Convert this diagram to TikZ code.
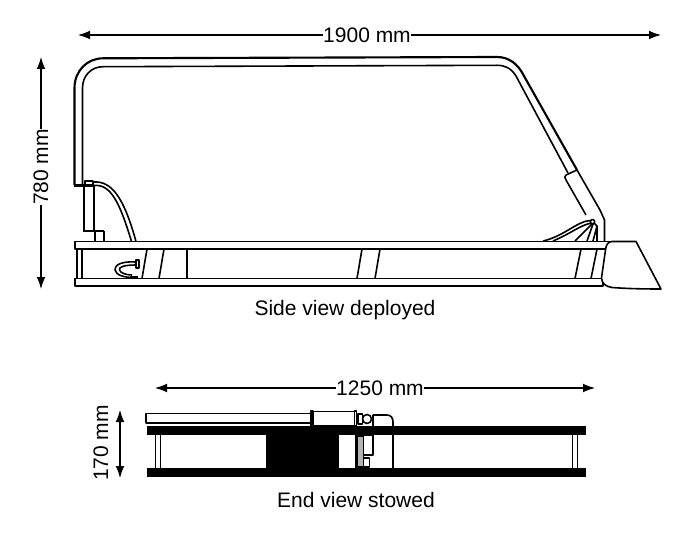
\documentclass[tikz,border=0pt]{standalone}
\usepackage{fontspec}
\setmainfont{Liberation Sans}
\usetikzlibrary{arrows.meta}
\tikzset{
  lbl/.style={inner sep=0pt,font=\fontsize{15.75}{18}\selectfont},
  dim/.style={line width=0.8pt,{Latex[length=9pt,width=6.5pt]}-{Latex[length=9pt,width=6.5pt]}},
  dimone/.style={line width=0.8pt,-{Latex[length=9pt,width=6.5pt]}},
  med/.style={line width=1.2pt},
  heavy/.style={line width=1.6pt},
  solid black/.style={fill=black,draw=none},
}
\begin{document}
\begin{tikzpicture}[x=0.75pt,y=-0.75pt,line join=round]
\useasboundingbox (0,0) rectangle (700,556);
% ---- dimensions
\node[lbl] (w) at (367,35) {1900 mm};
\coordinate (wl) at (78,35); \coordinate (wr) at (661,35);
\draw[dimone] (w.west) -- (wl); \draw[dimone] (w.east) -- (wr);
\node[lbl,rotate=90] (h) at (41,167) {780 mm};
\coordinate (ht) at (41,57); \coordinate (hb) at (41,289);
\draw[dimone] (h.east) -- (ht); \draw[dimone] (h.west) -- (hb);
\node[lbl] (e) at (380,388) {1250 mm};
\coordinate (el) at (155,388); \coordinate (er) at (595,388);
\draw[dimone] (e.west) -- (el); \draw[dimone] (e.east) -- (er);
\node[lbl,rotate=90] (s) at (101,443) {170 mm};
\coordinate (st) at (120,410); \coordinate (sb) at (120,478);
\draw[dim] (st) -- (sb);
\node[lbl] (c1) at (345,310) {Side view deployed};
\node[lbl] (c2) at (356,500) {End view stowed};
% ---- hoop
\draw[heavy] (74.5,185) -- (74.5,88) .. controls (74.5,71) and (87,58.3) .. (103,58.3)
  -- (497,57) .. controls (509,57) and (518,64) .. (524,76) -- (577,170);
\draw[med] (82.5,185) -- (82.5,88) .. controls (82.5,76) and (91,66.7) .. (103,66.7)
  -- (497,65.3) .. controls (505,65.3) and (511,68) .. (516,76) -- (568,173);
% ---- cylinder on strut
\draw[med] (566,175) -- (577,170) -- (600,210) -- (604.5,220) -- (604.5,241);
\draw[med] (566,175) .. controls (564.5,176) and (564.5,178) .. (566,180) -- (586,215);
\draw[med] (592,224) -- (575,241);
\draw[med] (593,224) -- (587,241);
\draw[med] (594,223) -- (597,226) -- (597,241);
\draw[med] (597,226) -- (593,241);
\draw[med] (592,220.5) .. controls (578,220) and (565,236) .. (543,241);
\draw[med] (592,223) .. controls (580,225) and (572,233) .. (553,241);
\draw[med,fill=white] (592.5,221.7) circle (2.2);
% ---- rails
\draw[med] (75,241.5) rectangle (610,249);
\draw[med] (75,278.5) rectangle (603,286);
\draw[med] (77,249) -- (77,278.5);
\draw[med] (81.7,249) -- (81.7,278.5);
\draw[med] (147,249) -- (142,278.5);
\draw[med] (164,249) -- (159,278.5);
\draw[med] (187,249) -- (187,278.5);
\draw[med] (362,249) -- (357,278.5);
\draw[med] (380,249) -- (375,278.5);
\draw[med] (581,249) -- (575,278.5);
\draw[med] (597,249) -- (591,278.5);
% ---- bucket
\draw[med,fill=white] (636,241.5) -- (661,289) .. controls (640,289) and (625,288.5) .. (612,287.5)
  .. controls (605,286.5) and (602,283) .. (601.5,278) -- (605.5,250)
  .. controls (606,245) and (608,241.5) .. (612,241.5) -- cycle;
% ---- left ram
\draw[line width=2pt] (74,185.3) -- (94,185.3);
\draw[med] (85,185) -- (85,181) -- (93,181) -- (93,185);
\draw[med] (84,185) -- (84,231);
\draw[med] (94,185) -- (94,231);
\draw[line width=2pt] (83,231) -- (104,231);
\draw[med] (95,231) -- (95,241.5);
\draw[med] (104,231) -- (104,241.5);
\draw[med] (94,182) .. controls (112,181) and (124,198) .. (136,241.5);
\draw[med] (94,185.5) .. controls (110,184) and (119,200) .. (131.5,241.5);
% ---- small hose
\draw[med] (136,262) .. controls (122,261) and (114,265) .. (115,270)
  .. controls (116,275) and (124,277.5) .. (133,277.5);
\draw[med] (136,265) .. controls (124,265) and (118.5,267) .. (119.5,270)
  .. controls (120.5,273) and (126,275) .. (132,275);
\draw[med,fill=white] (136,260) rectangle (139,268);
\draw[line width=2pt] (130,277.6) -- (138,277.6);
% ---- end view
\draw[med] (146,413.3) rectangle (311,423);
\fill[solid black] (147,426) rectangle (586,435);
\fill[solid black] (147,468) rectangle (586,477);
\fill[solid black] (266,435) rectangle (338.5,468);
\draw[med] (155.5,435) -- (155.5,468);
\draw[med] (160.5,435) -- (160.5,468);
\draw[med] (572.5,435) -- (572.5,468);
\draw[med] (577.5,435) -- (577.5,468);
\draw[med] (311,411) rectangle (313,426);
\draw[med] (313,411.5) -- (354.5,411.5);
\draw[med] (313,425.5) -- (354.5,425.5);
\draw[med] (354.5,411) rectangle (356.5,426);
\draw[med] (358,414) rectangle (362.5,424);
\draw[med,fill=white] (367,419) circle (4.5);
\draw[med] (372.7,415) -- (387,415) .. controls (391,415) and (393,418) .. (393,422) -- (393,426);
\draw[med] (372.7,415) -- (372.7,426);
\draw[med] (393,435) -- (393,468);
\draw[med] (356,435) -- (356,468);
\draw[med,fill=black!30] (357.5,436) rectangle (363.3,467);
\draw[med] (363.3,435) -- (372.7,435) -- (372.7,455) -- (363.3,455);
\draw[med] (363.3,458) rectangle (369.5,467);
\end{tikzpicture}
\end{document}
